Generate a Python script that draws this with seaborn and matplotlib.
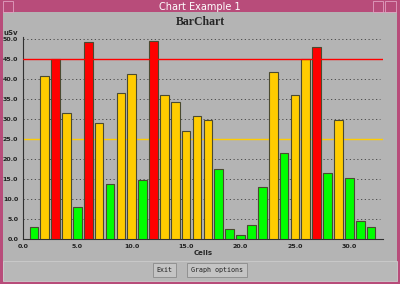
import matplotlib
matplotlib.use('Agg')
import matplotlib.pyplot as plt
import matplotlib.patches as mpatches
import numpy as np
import pandas as pd
import seaborn as sns

# bar data
cells = list(range(1, 33))
dose = [2.9, 40.8, 45.1, 31.4, 7.9, 49.3, 29.0, 13.8, 36.4, 41.2,
        14.8, 49.6, 35.9, 34.2, 26.9, 30.8, 29.7, 17.4, 2.4, 1.1,
        3.5, 12.9, 41.7, 21.5, 35.9, 44.9, 47.9, 16.5, 29.8, 15.2,
        4.5, 3.0]
warn_level = 25.0
alarm_level = 45.0
x_ticks = [0, 5, 10, 15, 20, 25, 30]
y_ticks = [0, 5, 10, 15, 20, 25, 30, 35, 40, 45, 50]

GREEN = '#00ff00'
ORANGE = '#ffcc00'
RED = '#ff0000'
BG = '#b4b4b4'
FRAME = '#b84c7a'


def level(v):
    if v > alarm_level:
        return 'alarm'
    if v >= warn_level:
        return 'warn'
    return 'ok'


df = pd.DataFrame({'cell': cells, 'dose': dose})
df['level'] = df['dose'].apply(level)

sns.set_style('white')
fig = plt.figure(figsize=(4.0, 2.84), dpi=100, facecolor=BG)

# window chrome
fig.patches.append(mpatches.Rectangle((0, 0), 1, 1, transform=fig.transFigure,
                                      facecolor=FRAME, edgecolor='none', zorder=-10))
fig.patches.append(mpatches.Rectangle((3 / 400, 3 / 284), 394 / 400, 269 / 284,
                                      transform=fig.transFigure, facecolor=BG,
                                      edgecolor='none', zorder=-9))
fig.patches.append(mpatches.Rectangle((3 / 400, 3 / 284), 394 / 400, 20 / 284,
                                      transform=fig.transFigure, facecolor='#b8b8b8',
                                      edgecolor='#cccccc', lw=0.6, zorder=-8))
fig.text(0.5, 1 - 6.5 / 284, 'Chart Example 1', color='white', fontsize=7,
         ha='center', va='center', family='DejaVu Sans')
# title bar buttons
for x0, w in [(3, 10), (373, 10), (385, 11)]:
    fig.patches.append(mpatches.Rectangle((x0 / 400, 1 - 12 / 284), w / 400, 11 / 284,
                                          transform=fig.transFigure, facecolor='none',
                                          edgecolor='#e0a0c0', lw=0.6))
# bottom buttons
for x0, w, label in [(153, 23, 'Exit'), (187, 60, 'Graph options')]:
    fig.patches.append(mpatches.Rectangle((x0 / 400, 7 / 284), w / 400, 14 / 284,
                                          transform=fig.transFigure, facecolor='#c4c4c4',
                                          edgecolor='#8a8a8a', lw=0.6))
    fig.text((x0 + w / 2) / 400, 14 / 284, label, fontsize=4.8, ha='center',
             va='center', family='DejaVu Sans Mono', color='#202020')

ax = fig.add_axes([23 / 400, 1 - 239 / 284, 360 / 400, 202 / 284])
ax.set_facecolor(BG)

sns.barplot(data=df, x='cell', y='dose', hue='level', native_scale=True,
            palette={'ok': GREEN, 'warn': ORANGE, 'alarm': RED}, saturation=1,
            dodge=False, width=0.8, edgecolor='#4a4a30', linewidth=0.8,
            legend=False, ax=ax, zorder=3)

ax.axhline(alarm_level, color=RED, lw=1.0, zorder=4)
ax.axhline(warn_level, color=ORANGE, lw=1.0, zorder=2)
for yv in y_ticks[1:]:
    ax.plot([0, 32.8], [yv, yv], color='#404040', lw=0.6, ls=(0, (1.5, 3)), zorder=1)

ax.set_xlim(0, 33.1)
ax.set_ylim(0, 50.5)
ax.set_xticks(x_ticks)
ax.set_xticklabels([f'{v:.1f}' for v in x_ticks])
ax.set_yticks(y_ticks)
ax.set_yticklabels([f'{v:.1f}' for v in y_ticks])
ax.tick_params(axis='both', labelsize=4.5, length=2, width=0.6, color='#303030',
               pad=1.5, labelcolor='#202020')
for lab in ax.get_xticklabels() + ax.get_yticklabels():
    lab.set_fontweight('bold')

for side in ['top', 'right']:
    ax.spines[side].set_visible(False)
for side in ['left', 'bottom']:
    ax.spines[side].set_color('#303030')
    ax.spines[side].set_linewidth(0.8)

ax.set_xlabel('Cells', fontsize=5, fontweight='bold', labelpad=1)
ax.set_ylabel('')
fig.text(11 / 400, 1 - 33 / 284, 'uSv', fontsize=5, fontweight='bold',
         ha='center', va='center')
fig.text(0.5, 1 - 22 / 284, 'BarChart', fontsize=8.5, fontweight='bold',
         ha='center', va='center', family='Liberation Serif')

fig.savefig('out.png', dpi=100, facecolor=fig.get_facecolor())
plt.close(fig)
